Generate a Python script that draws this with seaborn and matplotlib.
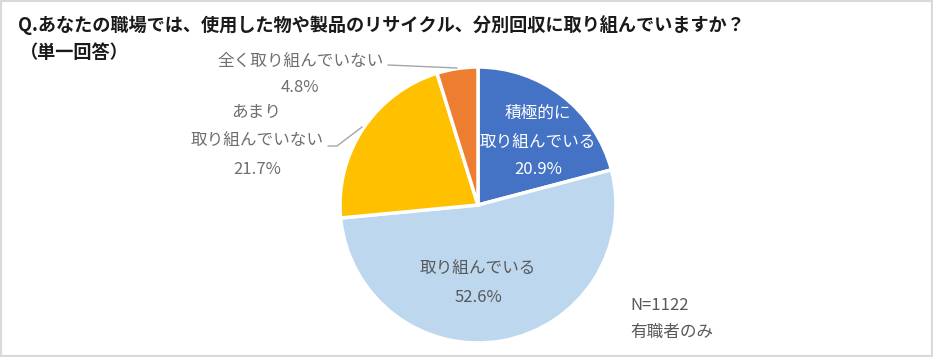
import matplotlib.pyplot as plt
from matplotlib.patches import Rectangle
import seaborn as sns

# data
categories = ["積極的に\n取り組んでいる", "取り組んでいる", "あまり\n取り組んでいない", "全く取り組んでいない"]
shares = [20.9, 52.6, 21.7, 4.8]
slice_colors = ["#4472C4", "#BDD7EE", "#FFC000", "#ED7D31"]
title = "Q.あなたの職場では、使用した物や製品のリサイクル、分別回収に取り組んでいますか？"
subtitle = "（単一回答）"
note = ["N=1122", "有職者のみ"]

sns.set_theme(style="white")
plt.rcParams['font.family'] = ['Noto Sans CJK JP', 'DejaVu Sans']

W, H = 933, 357
fig = plt.figure(figsize=(W / 100, H / 100), dpi=100)
ax = fig.add_axes([0, 0, 1, 1])


def py(y):
    # pixel row (from top) -> data y
    return H - y


ax.pie(shares, colors=slice_colors, startangle=90, counterclock=False,
       center=(478, py(205)), radius=138,
       wedgeprops=dict(edgecolor="white", linewidth=2.5))
ax.set_xlim(0, W)
ax.set_ylim(0, H)
ax.set_aspect("equal")
ax.axis("off")

gray = "#6f6f6f"
lab = 12

# inside labels
blue_lines = categories[0].split("\n") + [f"{shares[0]}%"]
for txt, y in zip(blue_lines, [113, 142, 170]):
    ax.text(538, py(y), txt, color="white", fontsize=lab, ha="center", va="center")

for txt, y in zip([categories[1], f"{shares[1]}%"], [268, 297]):
    ax.text(478, py(y), txt, color="#595959", fontsize=lab, ha="center", va="center")

# outside labels
yel_lines = categories[2].split("\n") + [f"{shares[2]}%"]
for txt, x, y in zip(yel_lines, [256, 257, 257], [113, 140, 170]):
    ax.text(x, py(y), txt, color=gray, fontsize=lab, ha="center", va="center")

ax.text(301, py(61), categories[3], color=gray, fontsize=lab, ha="center", va="center")
ax.text(300, py(88), f"{shares[3]}%", color=gray, fontsize=lab, ha="center", va="center")

# leader lines
ax.plot([388, 457], [py(65), py(68)], color="#a6a6a6", lw=1)
ax.plot([328, 337, 362], [py(146), py(146), py(127)], color="#a6a6a6", lw=1)

# titles
ax.text(18, py(25), title, fontsize=13.1, fontweight="bold", color="#1a1a1a",
        ha="left", va="center")
ax.text(20, py(53), subtitle, fontsize=13.1, fontweight="bold", color="#1a1a1a",
        ha="left", va="center")

ax.text(630, py(305), note[0], fontsize=lab, color="#595959", ha="left", va="center")
ax.text(630, py(333), note[1], fontsize=lab, color="#595959", ha="left", va="center")

fig.patches.append(Rectangle((0, 0), 1, 1, transform=fig.transFigure, fill=False,
                             edgecolor="#d9d9d9", lw=3))

fig.savefig("out.png", dpi=100, facecolor="white")
